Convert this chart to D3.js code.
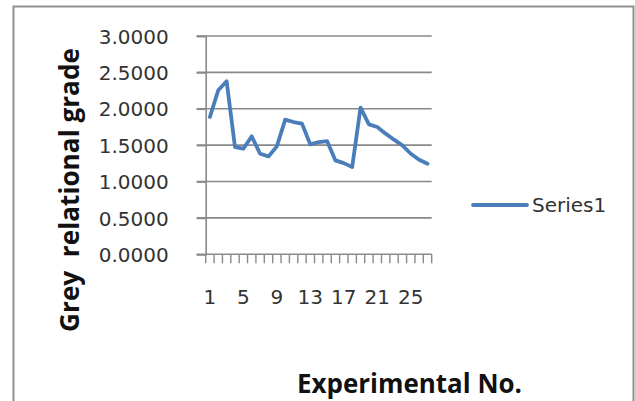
<!DOCTYPE html>
<html>
<head>
<meta charset="utf-8">
<script src="https://cdn.jsdelivr.net/npm/d3@7"></script>
<style>
  html, body { margin: 0; padding: 0; background: #fff; }
  svg { display: block; }
</style>
</head>
<body>
<svg id="chart" width="635" height="401"></svg>
<script>
// ---- data ----
const categories = d3.range(1, 28); // experiments 1..27
const series1 = [1.887, 2.255, 2.379, 1.473, 1.451, 1.621, 1.382, 1.345, 1.483,
                 1.851, 1.818, 1.796, 1.510, 1.542, 1.556, 1.290, 1.253, 1.198,
                 2.016, 1.786, 1.749, 1.658, 1.575, 1.497, 1.382, 1.299, 1.244];
const yTicks = [0, 0.5, 1.0, 1.5, 2.0, 2.5, 3.0];
const xTickLabels = [1, 5, 9, 13, 17, 21, 25];
const seriesName = "Series1";
const xTitle = "Experimental No.";
const yTitle = "Grey  relational grade";

// ---- layout ----
const svg = d3.select("#chart");
const W = 635, H = 401;
const plot = { left: 205.7, right: 431.7, top: 36, bottom: 254.3 };
const font = "'DejaVu Sans', sans-serif";
const titleFont = "'Open Sans', sans-serif";
const lineColor = "#4a7ebb";
const gridColor = "#898989";

svg.append("rect").attr("width", W).attr("height", H).attr("fill", "#fff");
// chart frame
svg.append("rect")
  .attr("x", 13.5).attr("y", 6.5).attr("width", 620).attr("height", 410)
  .attr("fill", "none").attr("stroke", "#8f8f8f").attr("stroke-width", 2);

const x = d3.scaleBand().domain(categories).range([plot.left, plot.right]);
const y = d3.scaleLinear().domain([0, 3]).range([plot.bottom, plot.top]);

// gridlines (with outside tick extension)
svg.append("g").selectAll("line").data(yTicks.filter(d => d > 0)).join("line")
  .attr("x1", plot.left - 9).attr("x2", plot.right)
  .attr("y1", d => y(d)).attr("y2", d => y(d))
  .attr("stroke", gridColor).attr("stroke-width", 1.6);

// y axis
const yAxis = d3.axisLeft(y).tickValues(yTicks).tickSize(9).tickFormat(d3.format(".4f")).tickPadding(28);
const gy = svg.append("g").attr("transform", `translate(${plot.left},0)`).call(yAxis);
gy.select(".domain").attr("stroke", gridColor).attr("stroke-width", 1.6);
gy.selectAll(".tick line").attr("stroke", gridColor).attr("stroke-width", 1.6);
gy.selectAll("text").attr("font-family", font).attr("font-size", 20).attr("fill", "#333")
  .attr("dy", "0.36em");

// x axis: ticks at category boundaries
const boundaries = d3.range(0, categories.length + 1).map(i => plot.left + i * x.step());
const gx = svg.append("g");
gx.append("line").attr("x1", plot.left - 9).attr("x2", plot.right)
  .attr("y1", plot.bottom).attr("y2", plot.bottom)
  .attr("stroke", gridColor).attr("stroke-width", 1.6);
gx.selectAll("line.tk").data(boundaries).join("line").attr("class", "tk")
  .attr("x1", d => d).attr("x2", d => d)
  .attr("y1", plot.bottom).attr("y2", plot.bottom + 9)
  .attr("stroke", gridColor).attr("stroke-width", 1.4);
gx.selectAll("text").data(xTickLabels).join("text")
  .attr("x", d => x(d) + x.bandwidth() / 2).attr("y", 304)
  .attr("text-anchor", "middle")
  .attr("font-family", font).attr("font-size", 20).attr("fill", "#333")
  .text(d => d);

// series line
const line = d3.line()
  .x((d, i) => x(categories[i]) + x.bandwidth() / 2)
  .y(d => y(d));
svg.append("path").datum(series1)
  .attr("d", line).attr("fill", "none")
  .attr("stroke", lineColor).attr("stroke-width", 3.8)
  .attr("stroke-linejoin", "round").attr("stroke-linecap", "round");

// legend
svg.append("line").attr("x1", 473).attr("x2", 527).attr("y1", 205).attr("y2", 205)
  .attr("stroke", lineColor).attr("stroke-width", 3.8).attr("stroke-linecap", "round");
svg.append("text").attr("x", 532).attr("y", 205).attr("dy", "0.36em")
  .attr("font-family", font).attr("font-size", 20).attr("fill", "#333").text(seriesName);

// titles, fitted to target widths
function fitText(sel, target) {
  const w = sel.node().getComputedTextLength();
  const fs = parseFloat(sel.attr("font-size"));
  sel.attr("font-size", fs * target / w);
}
const xt = svg.append("text").attr("x", 409.5).attr("y", 393)
  .attr("text-anchor", "middle").attr("font-family", titleFont).attr("font-weight", "bold")
  .attr("font-size", 24).attr("fill", "#111").style("white-space", "pre").text(xTitle);
fitText(xt, 225);
const yt = svg.append("text")
  .attr("transform", "translate(79,190) rotate(-90)")
  .attr("text-anchor", "middle").attr("font-family", titleFont).attr("font-weight", "bold")
  .attr("font-size", 24).attr("fill", "#111").style("white-space", "pre").text(yTitle);
fitText(yt, 284);
</script>
</body>
</html>
